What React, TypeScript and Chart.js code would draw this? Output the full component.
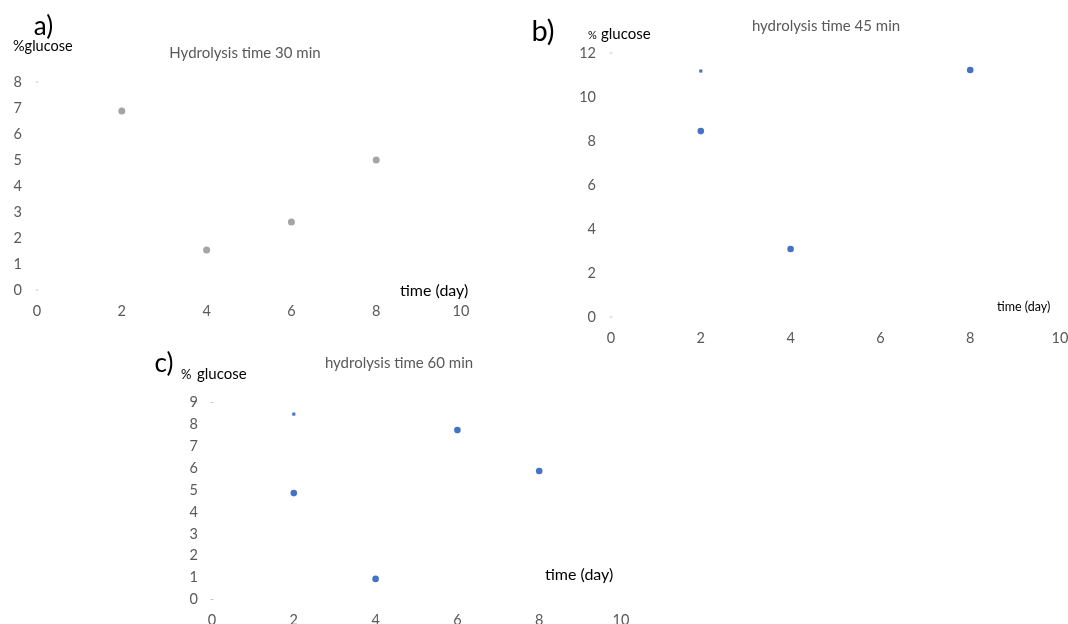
import React, { useEffect, useRef } from "react";
import { Chart, registerables } from "chart.js";

Chart.register(...registerables);

const FONT = "Lato, 'Open Sans', sans-serif";
const GREY_POINT = "#A5A5A5";
const BLUE_POINT = "#4472C4";
const TICK_COLOR = "#595959";
const TICK_SIZE = 14.5;

// shared x ticks (days)
const xTickValues = [0, 2, 4, 6, 8, 10];

// a) hydrolysis 30 min
const daysA = [2, 4, 6, 8];
const glucoseA = [6.88, 1.54, 2.62, 5.0];
const yTicksA = [0, 1, 2, 3, 4, 5, 6, 7, 8];

// b) hydrolysis 45 min
const daysB = [2, 4, 8];
const glucoseB = [8.45, 3.09, 11.23];
const partialDaysB = [2];
const partialGlucoseB = [11.18];
const yTicksB = [0, 2, 4, 6, 8, 10, 12];

// c) hydrolysis 60 min
const daysC = [2, 4, 6, 8];
const glucoseC = [4.86, 0.94, 7.74, 5.87];
const partialDaysC = [2];
const partialGlucoseC = [8.47];
const yTicksC = [0, 1, 2, 3, 4, 5, 6, 7, 8, 9];

type TextItem = {
  text: string;
  x: number;
  y: number;
  size: number;
  color: string;
  align?: CanvasTextAlign;
  baseline?: CanvasTextBaseline;
};

type PanelSpec = {
  left: number;
  top: number;
  width: number;
  height: number;
  area: { left: number; top: number; right: number; bottom: number };
  yTicks: number[];
  days: number[];
  values: number[];
  color: string;
  radius: number;
  partialDays: number[];
  partialValues: number[];
  yPad: number;
  xPad: number;
  texts: TextItem[];
};

function Panel({ spec }: { spec: PanelSpec }) {
  const ref = useRef<HTMLCanvasElement | null>(null);
  useEffect(() => {
    const canvas = ref.current;
    if (!canvas) return;
    const yMin = spec.yTicks[0];
    const yMax = spec.yTicks[spec.yTicks.length - 1];
    const textPlugin = {
      id: "panelTexts",
      afterDraw(chart: any) {
        const ctx = chart.ctx as CanvasRenderingContext2D;
        for (const t of spec.texts) {
          ctx.save();
          ctx.font = `${t.size}px ${FONT}`;
          ctx.fillStyle = t.color;
          ctx.textAlign = t.align || "left";
          ctx.textBaseline = t.baseline || "middle";
          ctx.fillText(t.text, t.x, t.y);
          ctx.restore();
        }
      },
    };
    const chart = new Chart(canvas, {
      type: "scatter",
      data: {
        datasets: [
          {
            label: "marks",
            data: [
              { x: xTickValues[0], y: yMax },
              { x: xTickValues[0], y: yMin },
            ],
            pointStyle: "line",
            pointRadius: 1.5,
            borderColor: "#c8c8c8",
            borderWidth: 1,
            backgroundColor: "#c8c8c8",
            clip: false as any,
          },
          {
            label: "partial",
            data: spec.partialDays.map((d, i) => ({ x: d, y: spec.partialValues[i] })),
            pointStyle: "rect",
            pointRadius: 2.2,
            backgroundColor: spec.color,
            borderColor: spec.color,
            borderWidth: 0,
            clip: false as any,
          },
          {
            label: "glucose",
            data: spec.days.map((d, i) => ({ x: d, y: spec.values[i] })),
            pointStyle: "circle",
            pointRadius: spec.radius,
            backgroundColor: spec.color,
            borderColor: spec.color,
            borderWidth: 0,
            clip: false as any,
          },
        ],
      },
      options: {
        animation: false,
        responsive: false,
        maintainAspectRatio: false,
        devicePixelRatio: 1,
        layout: {
          autoPadding: false,
          padding: {
            left: 0,
            top: spec.area.top,
            right: spec.width - spec.area.right,
            bottom: 0,
          },
        } as any,
        plugins: {
          legend: { display: false },
          tooltip: { enabled: false },
          title: { display: false },
        },
        scales: {
          x: {
            type: "linear",
            min: xTickValues[0],
            max: xTickValues[xTickValues.length - 1],
            afterBuildTicks: (s: any) => {
              s.ticks = xTickValues.map((v) => ({ value: v }));
            },
            afterFit: (s: any) => {
              s.height = spec.height - spec.area.bottom;
              s.paddingLeft = 0;
              s.paddingRight = 0;
            },
            grid: { display: false, drawTicks: false },
            border: { display: false },
            ticks: {
              color: TICK_COLOR,
              font: { family: FONT, size: TICK_SIZE },
              padding: spec.xPad,
              maxRotation: 0,
              autoSkip: false,
            },
          },
          y: {
            type: "linear",
            min: yMin,
            max: yMax,
            afterBuildTicks: (s: any) => {
              s.ticks = spec.yTicks.map((v) => ({ value: v }));
            },
            afterFit: (s: any) => {
              s.width = spec.area.left;
              s.paddingTop = 0;
              s.paddingBottom = 0;
            },
            grid: { display: false, drawTicks: false },
            border: { display: false },
            ticks: {
              color: TICK_COLOR,
              font: { family: FONT, size: TICK_SIZE },
              padding: spec.yPad,
              autoSkip: false,
            },
          },
        },
      },
      plugins: [textPlugin],
    });
    return () => chart.destroy();
  }, [spec]);
  return (
    <canvas
      ref={ref}
      width={spec.width}
      height={spec.height}
      style={{
        position: "absolute",
        left: spec.left,
        top: spec.top,
        width: spec.width,
        height: spec.height,
      }}
    />
  );
}

const panelA: PanelSpec = {
  left: 0,
  top: 0,
  width: 520,
  height: 330,
  area: { left: 37, top: 82, right: 461, bottom: 290 },
  yTicks: yTicksA,
  days: daysA,
  values: glucoseA,
  color: GREY_POINT,
  radius: 3.5,
  partialDays: [],
  partialValues: [],
  yPad: 15,
  xPad: 12.5,
  texts: [
    { text: "a)", x: 43.5, y: 27, size: 26, color: "#000", align: "center" },
    { text: "%glucose", x: 13, y: 46, size: 14.5, color: "#000" },
    { text: "Hydrolysis time 30 min", x: 245, y: 53, size: 15, color: TICK_COLOR, align: "center" },
    { text: "time (day)", x: 400, y: 291, size: 16, color: "#000" },
  ],
};

const panelB: PanelSpec = {
  left: 520,
  top: 0,
  width: 548,
  height: 350,
  area: { left: 91, top: 53, right: 540, bottom: 317 },
  yTicks: yTicksB,
  days: daysB,
  values: glucoseB,
  color: BLUE_POINT,
  radius: 3.3,
  partialDays: partialDaysB,
  partialValues: partialGlucoseB,
  yPad: 15,
  xPad: 12.5,
  texts: [
    { text: "b)", x: 23, y: 32, size: 29, color: "#000", align: "center" },
    { text: "%", x: 68, y: 39, size: 11, color: "#000", baseline: "alphabetic" },
    { text: "glucose", x: 81, y: 39, size: 15, color: "#000", baseline: "alphabetic" },
    { text: "hydrolysis time 45 min", x: 306, y: 26, size: 15, color: TICK_COLOR, align: "center" },
    { text: "time (day)", x: 477, y: 307, size: 12.5, color: "#000" },
  ],
};

const panelC: PanelSpec = {
  left: 140,
  top: 340,
  width: 520,
  height: 284,
  area: { left: 72, top: 62.5, right: 481, bottom: 259.5 },
  yTicks: yTicksC,
  days: daysC,
  values: glucoseC,
  color: BLUE_POINT,
  radius: 3.3,
  partialDays: partialDaysC,
  partialValues: partialGlucoseC,
  yPad: 14,
  xPad: 12.5,
  texts: [
    { text: "c)", x: 24, y: 24, size: 26, color: "#000", align: "center" },
    { text: "%", x: 41, y: 39, size: 13, color: "#000", baseline: "alphabetic" },
    { text: "glucose", x: 57, y: 38.5, size: 15, color: "#000", baseline: "alphabetic" },
    { text: "hydrolysis time 60 min", x: 259, y: 23, size: 15, color: TICK_COLOR, align: "center" },
    { text: "time (day)", x: 545 - 140, y: 235, size: 16, color: "#000" },
  ],
};

export default function App() {
  return (
    <div
      style={{
        position: "absolute",
        left: 0,
        top: 0,
        width: 1068,
        height: 624,
        background: "#ffffff",
        overflow: "hidden",
      }}
    >
      <Panel spec={panelA} />
      <Panel spec={panelB} />
      <Panel spec={panelC} />
    </div>
  );
}
